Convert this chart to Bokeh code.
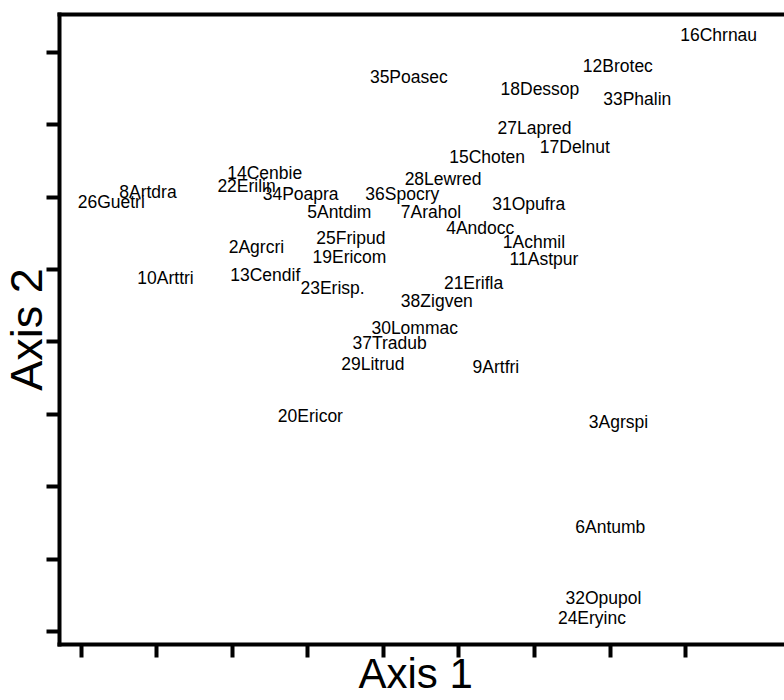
from bokeh.plotting import figure
from bokeh.models import ColumnDataSource, FixedTicker, LinearAxis, Range1d, CustomLabelingPolicy, Title
from bokeh.core.properties import value
from bokeh.embed import file_html
from bokeh.resources import INLINE

# Species labels and their ordination scores (axis units = tick intervals)
species = ["1Achmil", "2Agrcri", "3Agrspi", "4Andocc", "5Antdim", "6Antumb", "7Arahol",
           "8Artdra", "9Artfri", "10Arttri", "11Astpur", "12Brotec", "13Cendif", "14Cenbie",
           "15Choten", "16Chrnau", "17Delnut", "18Dessop", "19Ericom", "20Ericor", "21Erifla",
           "22Erilin", "23Erisp.", "24Eryinc", "25Fripud", "26Guetri", "27Lapred", "28Lewred",
           "29Litrud", "30Lommac", "31Opufra", "32Opupol", "33Phalin", "34Poapra", "35Poasec",
           "36Spocry", "37Tradub", "38Zigven"]
axis1 = [5.58, 1.95, 6.72, 4.83, 2.99, 6.54, 4.23,
         0.50, 5.18, 0.74, 5.67, 6.64, 1.97, 1.93,
         4.87, 7.93, 6.07, 5.55, 3.06, 2.60, 4.80,
         1.80, 2.90, 6.31, 3.11, -0.05, 5.51, 4.28,
         3.44, 3.84, 5.44, 6.41, 6.91, 2.40, 3.82,
         3.76, 3.59, 4.23]
axis2 = [5.38, 5.31, 2.89, 5.57, 5.80, 1.44, 5.79,
         6.07, 3.65, 4.88, 5.15, 7.82, 4.92, 6.33,
         6.55, 8.24, 6.70, 7.50, 5.17, 2.98, 4.82,
         6.15, 4.74, 0.19, 5.44, 5.94, 6.96, 6.25,
         3.70, 4.20, 5.91, 0.46, 7.36, 6.04, 7.66,
         6.05, 3.98, 4.56]
tick_positions = [0, 1, 2, 3, 4, 5, 6, 7, 8]
x_title = "Axis 1"
y_title = "Axis 2"

src = ColumnDataSource(dict(x=axis1, y=axis2, label=species))

p = figure(width=784, height=700, output_backend="svg", toolbar_location=None,
           x_range=Range1d(-0.291, 9.311), y_range=Range1d(-0.180, 8.525),
           min_border_left=59, min_border_top=14, min_border_bottom=56, min_border_right=0)
p.outline_line_color = None
p.grid.visible = False
p.background_fill_color = "white"
p.border_fill_color = "white"

hide_labels = "for (const i of indices) { indices.unset(i) }"

for ax in (p.xaxis[0], p.yaxis[0]):
    ax.ticker = FixedTicker(ticks=tick_positions)
    ax.axis_line_width = 4
    ax.axis_line_color = "black"
    ax.axis_line_cap = "square"
    ax.major_tick_line_width = 4
    ax.major_tick_line_color = "black"
    ax.major_tick_in = 0
    ax.major_tick_out = 13
    ax.minor_tick_line_color = None
    ax.major_label_policy = CustomLabelingPolicy(code=hide_labels)
    ax.major_label_text_font_size = "1px"
    ax.major_label_standoff = 0

top = LinearAxis(ticker=FixedTicker(ticks=[]), axis_line_width=4, axis_line_color="black",
                 axis_line_cap="square", major_tick_line_color=None, minor_tick_line_color=None,
                 major_tick_out=0, major_tick_in=0, major_label_text_font_size="1px",
                 major_label_standoff=0)
p.add_layout(top, "above")

p.text(x="x", y="y", text="label", source=src,
       text_font=value("Liberation Sans"), text_font_size="17.5px",
       text_color="black", text_align="left", text_baseline="middle")

# axis titles as side-panel titles
p.add_layout(Title(text=x_title, text_font="Liberation Sans", text_font_size="42px",
                   text_font_style="normal", text_color="black", align="left",
                   vertical_align="middle", offset=299, standoff=-25), "below")
p.add_layout(Title(text=y_title, text_font="Liberation Sans", text_font_size="45px",
                   text_font_style="normal", text_color="black", align="center",
                   vertical_align="middle", standoff=-21), "left")

open("out.html", "w").write(file_html(p, INLINE))
